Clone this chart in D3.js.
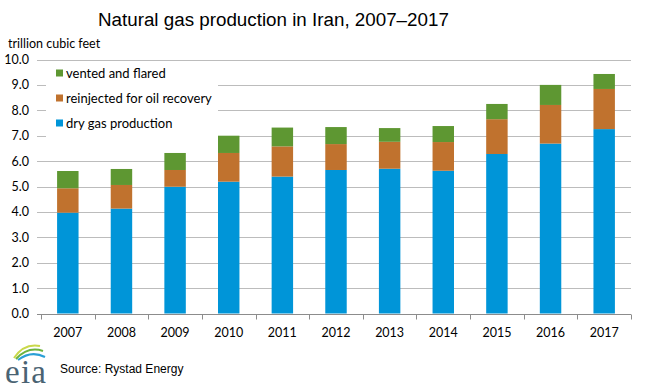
<!DOCTYPE html>
<html><head><meta charset="utf-8">
<script src="https://cdn.jsdelivr.net/npm/d3@7"></script>
<style>body{margin:0;background:#fff}svg{display:block}</style>
</head><body>
<svg id="c" width="647" height="392"></svg>
<script>
const years = ["2007","2008","2009","2010","2011","2012","2013","2014","2015","2016","2017"];
const dryGas = [3.97,4.13,4.99,5.19,5.39,5.65,5.70,5.62,6.28,6.69,7.26];
const reinjected = [0.96,0.93,0.66,1.13,1.19,1.02,1.06,1.13,1.37,1.52,1.58];
const vented = [0.68,0.63,0.67,0.68,0.74,0.67,0.54,0.63,0.60,0.79,0.59];
const seriesNames = ["dry gas production","reinjected for oil recovery","vented and flared"];
const seriesColors = ["#0095d8","#c0722e","#5e9732"];
const yTicks = [0,1,2,3,4,5,6,7,8,9,10];

(function(){
const svg = d3.select("#c");
const pL = 41, pR = 631, pT = 59.5, pB = 313.5;
const x = d3.scaleBand().domain(years).range([pL, pR]).paddingInner(0.6).paddingOuter(0.3);
const y = d3.scaleLinear().domain([0,10]).range([pB, pT]);
const label = "Lato, 'Open Sans', sans-serif";

svg.append("text").attr("x", 98).attr("y", 26).attr("font-family","'Liberation Sans', Arial, sans-serif")
  .attr("font-size", 18.8).attr("fill","#000").text("Natural gas production in Iran, 2007\u20132017");
svg.append("text").attr("x", 8).attr("y", 48).attr("font-family",label).attr("font-size",12.5).attr("fill","#000").text("trillion cubic feet");

svg.append("g").selectAll("line").data(yTicks.filter(d=>d>0)).join("line")
  .attr("x1", pL-4).attr("x2", pR).attr("y1", d=>Math.round(y(d))+0.5).attr("y2", d=>Math.round(y(d))+0.5)
  .attr("stroke","#bcbcbc").attr("stroke-width",1);

svg.append("g").selectAll("text").data(yTicks).join("text")
  .attr("x", 29).attr("y", d=>y(d)+4.5).attr("text-anchor","end").attr("font-family",label).attr("font-size",12.5)
  .attr("fill","#000").text(d=>d.toFixed(1));

const rows = years.map((yr,i)=>({year:yr, dry:dryGas[i], re:reinjected[i], vent:vented[i]}));
const stack = d3.stack().keys(["dry","re","vent"])(rows);
svg.append("g").selectAll("g").data(stack).join("g").attr("fill",(d,i)=>seriesColors[i])
  .selectAll("rect").data(d=>d).join("rect")
  .attr("x", d=>x(d.data.year)).attr("width", x.bandwidth())
  .attr("y", d=>y(d[1])).attr("height", d=>y(d[0])-y(d[1]));

const xAxis = svg.append("g").attr("transform",`translate(0,${Math.round(pB)+0.5})`);
xAxis.append("line").attr("x1",pL-4).attr("x2",pR).attr("stroke","#8c8c8c");
const step = (pR-pL)/years.length;
xAxis.selectAll("line.t").data(d3.range(years.length+1)).join("line").attr("class","t")
  .attr("x1", i=>Math.round(pL+i*step)+0.5).attr("x2", i=>Math.round(pL+i*step)+0.5).attr("y1",0).attr("y2",5).attr("stroke","#8c8c8c");
xAxis.selectAll("text").data(years).join("text").attr("x", d=>x(d)+x.bandwidth()/2).attr("y",22)
  .attr("text-anchor","middle").attr("font-family",label).attr("font-size",12.5).attr("fill","#000").text(d=>d);

svg.append("rect").attr("x",46).attr("y",63).attr("width",172).attr("height",76).attr("fill","#fff");
const leg = svg.append("g").selectAll("g").data([2,1,0]).join("g").attr("transform",(d,i)=>`translate(56,${73+i*25})`);
leg.append("rect").attr("x",0).attr("y",-3.5).attr("width",7).attr("height",7).attr("fill",d=>seriesColors[d]);
leg.append("text").attr("x",10).attr("y",4.5).attr("font-family",label).attr("font-size",13).attr("fill","#000").text(d=>seriesNames[d]);

svg.append("text").attr("x",60).attr("y",373).attr("font-family","'Liberation Sans', Arial, sans-serif").attr("font-size",12).attr("fill","#000").text("Source: Rystad Energy");

const logo = svg.append("g");
logo.append("path").attr("d","M14,358 Q24,343 40,346").attr("fill","none").attr("stroke","#c9d84a").attr("stroke-width",2);
logo.append("path").attr("d","M16,359 Q28,346 43,351").attr("fill","none").attr("stroke","#6cb33f").attr("stroke-width",2);
logo.append("path").attr("d","M18,360 Q31,350 45,357").attr("fill","none").attr("stroke","#2a9fd6").attr("stroke-width",2);
logo.append("text").attr("x",5).attr("y",383).attr("font-family","'Liberation Serif', 'DejaVu Serif', serif").attr("font-size",33).attr("fill","#4a6373").attr("textLength",41).text("eia");
})();
</script>
</body></html>
